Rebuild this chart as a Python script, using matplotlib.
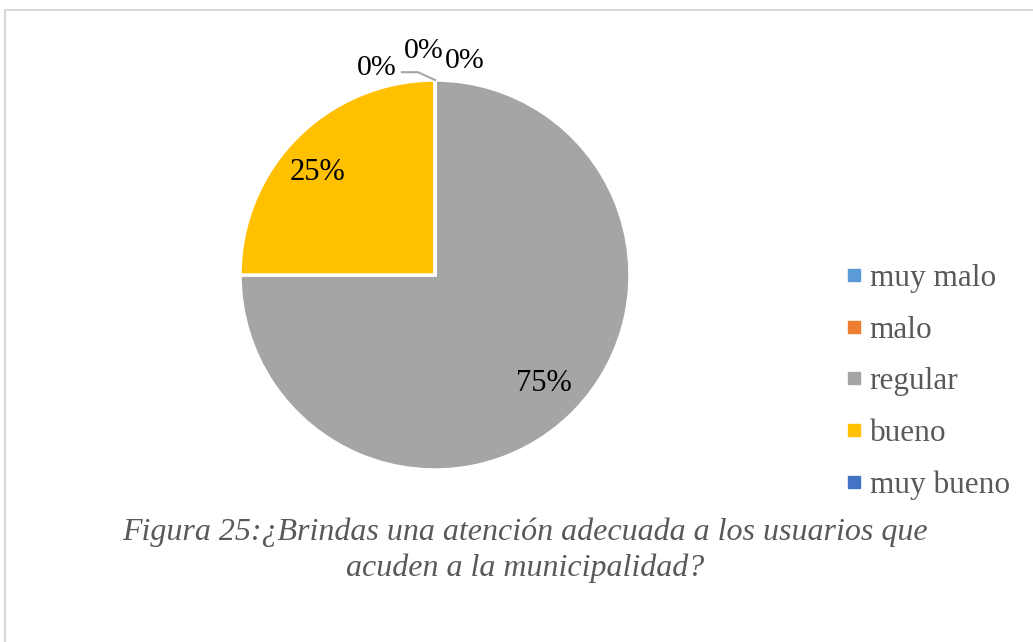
import matplotlib
matplotlib.use("Agg")
import matplotlib.pyplot as plt
from matplotlib.patches import Rectangle
from matplotlib.lines import Line2D
import numpy as np

categories = ["muy malo", "malo", "regular", "bueno", "muy bueno"]
values = [0, 0, 75, 25, 0]
colors = ["#5B9BD5", "#ED7D31", "#A5A5A5", "#FFC000", "#4472C4"]
title_lines = ["Figura 25:¿Brindas una atención adecuada a los usuarios que",
               "acuden a la municipalidad?"]

W, H = 1033, 642
fig = plt.figure(figsize=(W / 100, H / 100), dpi=100)
plt.rcParams['font.family'] = ['Liberation Serif', 'DejaVu Serif']

# border
fig.patches.append(Rectangle((5 / W, -0.05), 1.2, (H - 10) / H + 0.05, transform=fig.transFigure,
                             fill=False, edgecolor="#D9D9D9", linewidth=1.5))

cx, cy, r = 435, 275, 195
half = 1.2 * r
ax = fig.add_axes([(cx - half) / W, (H - cy - half) / H, 2 * half / W, 2 * half / H])

wedges, _ = ax.pie(values, colors=colors, startangle=90, counterclock=False, radius=1,
                   wedgeprops=dict(edgecolor="white", linewidth=2.5), normalize=True)
ax.set_xlim(-1.2, 1.2)
ax.set_ylim(-1.2, 1.2)
ax.axis("off")

total = sum(values)
pcts = [v / total * 100 for v in values]
zero_pos = [(-0.30, 1.06), (-0.06, 1.15), (0.15, 1.10)]
zi = 0
for w, p in zip(wedges, pcts):
    label = f"{p:.0f}%"
    if p > 0:
        mid = (w.theta1 + w.theta2) / 2
        if p < 50:
            mid += 4
            dist = 0.80
        else:
            dist = 0.79
        ang = np.deg2rad(mid)
        ax.text(dist * np.cos(ang), dist * np.sin(ang), label, ha="center", va="center",
                fontsize=22, color="#000000")
    else:
        x, y = zero_pos[zi]
        zi += 1
        ax.text(x, y, label, ha="center", va="center", fontsize=21.5, color="#000000")

ax.plot([0, -0.087, -0.17], [1.0, 1.04, 1.04], color="#A5A5A5", linewidth=1.5, clip_on=False)

handles = [Line2D([], [], marker="s", linestyle="none", markersize=8, color=c) for c in colors]
leg = fig.legend(handles, categories, loc="center left", bbox_to_anchor=(832 / W, 1 - 382 / H),
                 frameon=False, fontsize=22.5, handlelength=0.4, handletextpad=0.3,
                 labelspacing=0.72, labelcolor="#595959", borderpad=0)

for i, line in enumerate(title_lines):
    fig.text(525 / W, 1 - (532 + 36 * i) / H, line, ha="center", va="center",
             fontsize=23, style="italic", color="#595959")

fig.savefig("out.png", dpi=100)
